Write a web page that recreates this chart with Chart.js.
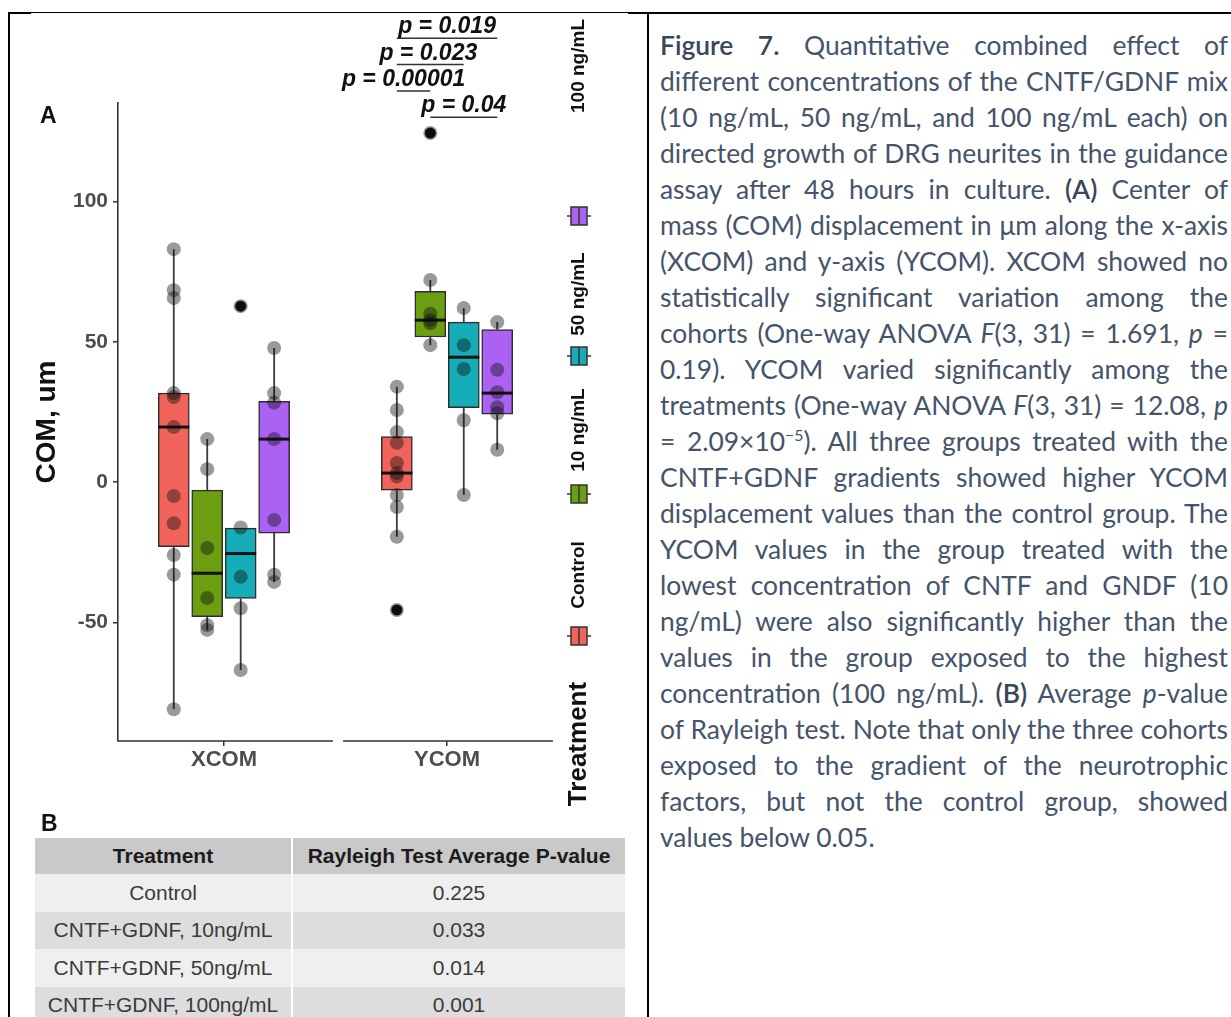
<!DOCTYPE html>
<html>
<head>
<meta charset="utf-8">
<title>Figure 7</title>
<script src="https://cdn.jsdelivr.net/npm/chart.js@4.4.1/dist/chart.umd.min.js"></script>
<style>
  html, body { margin: 0; padding: 0; background: #fff; }
  body { width: 1231px; height: 1017px; position: relative; overflow: hidden;
         font-family: "Liberation Sans", Arial, sans-serif; }
  .rule { position: absolute; background: #000; }
  #chart { position: absolute; left: 0; top: 0; }
  .panel-label { position: absolute; font-weight: bold; font-size: 23px; line-height: 23px; color: #111; }
  #rayleigh { position: absolute; left: 35px; top: 838px; width: 590px; border-collapse: collapse;
              table-layout: fixed; font-size: 21px; color: #3a3a3a; }
  #rayleigh th, #rayleigh td { padding: 0; text-align: center; white-space: nowrap; }
  #rayleigh th { background: #c9c9c9; color: #1c1c1c; font-weight: bold; height: 36px; }
  #rayleigh td { height: 37.5px; }
  #rayleigh th:first-child, #rayleigh td:first-child { border-right: 2px solid #fff; }
  #rayleigh tbody tr:nth-child(odd) td { background: #efefef; }
  #rayleigh tbody tr:nth-child(even) td { background: #dddddd; }
  #caption { position: absolute; left: 660px; top: 27px; width: 568px;
             font-family: Lato, "Open Sans", sans-serif; font-weight: 400; font-size: 27px; color: #44546A; }
  #caption .ln { height: 36px; line-height: 36px; text-align: justify; text-align-last: justify; }
  #caption .ln.last { text-align-last: left; }
  #caption .em { font-weight: 600; color: #3a475a; }
  #caption sup { font-size: 0.6em; line-height: 0; vertical-align: super; }
</style>
</head>
<body>
<div class="rule" style="left:8px; top:12px; width:1223px; height:2px;"></div>
<div class="rule" style="left:8px; top:12px; width:2px; height:1005px;"></div>
<div class="rule" style="left:647px; top:12px; width:2px; height:1005px;"></div>
<div style="position:absolute; left:31px; top:13px; width:597px; height:1px; background:#fff;"></div>

<canvas id="chart" width="640" height="830"></canvas>

<div class="panel-label" style="left:40px; top:104px;">A</div>
<div class="panel-label" style="left:41px; top:812px;">B</div>

<table id="rayleigh">
  <colgroup><col style="width:257px"><col style="width:333px"></colgroup>
  <thead><tr><th>Treatment</th><th>Rayleigh Test Average P-value</th></tr></thead>
  <tbody></tbody>
</table>

<div id="caption">
  <div class="ln"><span class="em">Figure 7.</span> Quantitative combined effect of</div>
  <div class="ln">different concentrations of the CNTF/GDNF mix</div>
  <div class="ln">(10 ng/mL, 50 ng/mL, and 100 ng/mL each) on</div>
  <div class="ln">directed growth of DRG neurites in the guidance</div>
  <div class="ln">assay after 48 hours in culture. <span class="em">(A)</span> Center of</div>
  <div class="ln">mass (COM) displacement in μm along the x-axis</div>
  <div class="ln">(XCOM) and y-axis (YCOM). XCOM showed no</div>
  <div class="ln">statistically significant variation among the</div>
  <div class="ln">cohorts (One-way ANOVA <i>F</i>(3, 31) = 1.691, <i>p</i> =</div>
  <div class="ln">0.19). YCOM varied significantly among the</div>
  <div class="ln">treatments (One-way ANOVA <i>F</i>(3, 31) = 12.08, <i>p</i></div>
  <div class="ln">= 2.09×10<sup>−5</sup>). All three groups treated with the</div>
  <div class="ln">CNTF+GDNF gradients showed higher YCOM</div>
  <div class="ln">displacement values than the control group. The</div>
  <div class="ln">YCOM values in the group treated with the</div>
  <div class="ln">lowest concentration of CNTF and GNDF (10</div>
  <div class="ln">ng/mL) were also significantly higher than the</div>
  <div class="ln">values in the group exposed to the highest</div>
  <div class="ln">concentration (100 ng/mL). <span class="em">(B)</span> Average <i>p</i>-value</div>
  <div class="ln">of Rayleigh test. Note that only the three cohorts</div>
  <div class="ln">exposed to the gradient of the neurotrophic</div>
  <div class="ln">factors, but not the control group, showed</div>
  <div class="ln last">values below 0.05.</div>
</div>

<script>
// ---- data ----
const groups = ['XCOM', 'YCOM'];
const treatments = ['Control', '10 ng/mL', '50 ng/mL', '100 ng/mL'];
const yTicks = [-50, 0, 50, 100];

// box summaries per group (XCOM, YCOM): [lower whisker, Q1, median, Q3, upper whisker]
const controlBox = [[-81, -23, 19.6, 31.7, 83], [-19.5, -2.9, 3.2, 16.2, 34]];
const ng10Box    = [[-52.7, -48, -32.5, -2.9, 15.3], [48.8, 51.7, 57.7, 68, 72]];
const ng50Box    = [[-67, -41.5, -25.5, -16.4, -16.4], [-4.6, 26.5, 44.5, 57, 62]];
const ng100Box   = [[-35.6, -18.2, 15.3, 28.8, 47.8], [11.5, 24.2, 31.7, 54.3, 57]];

// individual explants (XCOM, YCOM)
const controlPoints = [[83, 68.4, 65.6, 31.7, 30.3, 19.6, -5, -14.7, -26, -33, -81],
                       [34, 25.7, 17.8, 14, 6.8, 3.2, 2, -4.6, -8.9, -19.5, -45.6]];
const ng10Points    = [[15.3, 4.6, -23.5, -41.3, -51, -52.7],
                       [124.4, 72, 60, 57.7, 56.6, 48.8]];
const ng50Points    = [[62.7, -16.2, -33.8, -45, -67],
                       [62, 48.8, 40.3, 22, -4.6]];
const ng100Points   = [[47.8, 31.7, 28.3, 15.3, -13.5, -33, -35.6],
                       [57, 40, 32, 26.7, 24.5, 11.5]];

// values beyond 1.5 IQR (XCOM, YCOM)
const controlOutliers = [[], [-45.6]];
const ng10Outliers    = [[], [124.4]];
const ng50Outliers    = [[62.7], []];
const ng100Outliers   = [[], []];

// YCOM pairwise comparisons, lowest bracket first
const pLabels = ['p = 0.04', 'p = 0.00001', 'p = 0.023', 'p = 0.019'];
const pPairs  = [[1, 3], [0, 1], [0, 2], [0, 3]];

// panel B
const rayleighTreatments = ['Control', 'CNTF+GDNF, 10ng/mL', 'CNTF+GDNF, 50ng/mL', 'CNTF+GDNF, 100ng/mL'];
const rayleighPValues = ['0.225', '0.033', '0.014', '0.001'];

// ---- styling / layout ----
const FONT = '"Liberation Sans", Arial, sans-serif';
const fills = ['#F2645B', '#6C9E12', '#16ADB8', '#AB62F3'];
const DODGE = 0.15;                 // spacing between dodged boxes, in group units
const PANEL_GAP = [0.489, 0.534];   // blank strip between the XCOM and YCOM panels
const BRACKET_BASE = 130, BRACKET_STEP = 9.4;
const LABEL_SHIFT = [0, -10, -2, 0]; // horizontal nudges (px) for the bracket labels

const boxSets = [controlBox, ng10Box, ng50Box, ng100Box];
const pointSets = [controlPoints, ng10Points, ng50Points, ng100Points];
const outlierSets = [controlOutliers, ng10Outliers, ng50Outliers, ng100Outliers];
const slot = (gi, ti) => gi + (ti - (treatments.length - 1) / 2) * DODGE;

// table B
const tbody = document.querySelector('#rayleigh tbody');
rayleighTreatments.forEach((t, i) => {
  const tr = document.createElement('tr');
  const a = document.createElement('td'); a.textContent = t;
  const b = document.createElement('td'); b.textContent = rayleighPValues[i];
  tr.appendChild(a); tr.appendChild(b); tbody.appendChild(tr);
});

// ---- datasets ----
const datasets = [];
treatments.forEach((t, ti) => {
  datasets.push({
    type: 'bar', label: t, order: 3, boxStats: boxSets[ti],
    data: groups.map((g, gi) => ({ x: slot(gi, ti), y: [boxSets[ti][gi][1], boxSets[ti][gi][3]] })),
    backgroundColor: fills[ti], borderColor: '#2e2e2e', borderWidth: 1.5,
    borderSkipped: false, barThickness: 31, grouped: false
  });
});
treatments.forEach((t, ti) => {
  datasets.push({
    type: 'scatter', label: t + ' explants', order: 2,
    data: pointSets[ti].flatMap((vals, gi) => vals.map(v => ({ x: slot(gi, ti), y: v }))),
    pointRadius: 7, pointHoverRadius: 7, pointBorderWidth: 0,
    pointBackgroundColor: 'rgba(15,15,15,0.42)'
  });
  datasets.push({
    type: 'scatter', label: t + ' outliers', order: 1,
    data: outlierSets[ti].flatMap((vals, gi) => vals.map(v => ({ x: slot(gi, ti), y: v }))),
    pointRadius: 5.5, pointHoverRadius: 5.5, pointBorderWidth: 0,
    pointBackgroundColor: '#0d0d0d'
  });
});

// whiskers under the boxes, medians on top of them
const boxPlotExtras = {
  id: 'boxPlotExtras',
  beforeDatasetsDraw(chart) {
    const { ctx, scales: { x, y } } = chart;
    ctx.save();
    ctx.strokeStyle = '#3b3b3b';
    ctx.lineWidth = 1.8;
    boxSets.forEach((stats, ti) => stats.forEach((s, gi) => {
      const px = x.getPixelForValue(slot(gi, ti));
      ctx.beginPath();
      ctx.moveTo(px, y.getPixelForValue(s[0])); ctx.lineTo(px, y.getPixelForValue(s[1]));
      ctx.moveTo(px, y.getPixelForValue(s[3])); ctx.lineTo(px, y.getPixelForValue(s[4]));
      ctx.stroke();
    }));
    ctx.restore();
  },
  afterDatasetDraw(chart, args) {
    const ds = chart.data.datasets[args.index];
    if (!ds.boxStats) return;
    const { ctx, scales: { y } } = chart;
    ctx.save();
    ctx.strokeStyle = '#111';
    ctx.lineWidth = 3;
    args.meta.data.forEach((bar, gi) => {
      const { x: bx, width } = bar.getProps(['x', 'width'], true);
      const my = y.getPixelForValue(ds.boxStats[gi][2]);
      ctx.beginPath(); ctx.moveTo(bx - width / 2, my); ctx.lineTo(bx + width / 2, my); ctx.stroke();
    });
    ctx.restore();
  }
};

// separate x-axis lines for the two panels
const panelAxes = {
  id: 'panelAxes',
  afterDraw(chart) {
    const { ctx, chartArea: a, scales: { x } } = chart;
    ctx.save();
    ctx.strokeStyle = '#333';
    ctx.lineWidth = 1.6;
    ctx.beginPath();
    ctx.moveTo(a.left, a.bottom); ctx.lineTo(x.getPixelForValue(PANEL_GAP[0]), a.bottom);
    ctx.moveTo(x.getPixelForValue(PANEL_GAP[1]), a.bottom); ctx.lineTo(a.right, a.bottom);
    ctx.stroke();
    ctx.restore();
  }
};

// significance labels with underline brackets over YCOM
const pValueBrackets = {
  id: 'pValueBrackets',
  afterDraw(chart) {
    const { ctx, scales: { x, y } } = chart;
    ctx.save();
    ctx.fillStyle = '#111';
    ctx.strokeStyle = '#333';
    ctx.lineWidth = 1.6;
    ctx.font = 'italic bold 23px ' + FONT;
    ctx.textAlign = 'center';
    ctx.textBaseline = 'alphabetic';
    pPairs.forEach(([a, b], k) => {
      const x1 = x.getPixelForValue(slot(1, a));
      const x2 = x.getPixelForValue(slot(1, b));
      const ly = y.getPixelForValue(BRACKET_BASE + k * BRACKET_STEP);
      ctx.beginPath(); ctx.moveTo(x1, ly); ctx.lineTo(x2, ly); ctx.stroke();
      ctx.fillText(pLabels[k], (x1 + x2) / 2 + LABEL_SHIFT[k], ly - 5);
    });
    ctx.restore();
  }
};

// vertical legend to the right of the panels
const LEGEND_X = 579;
const LEGEND_TITLE_Y = 744;
const LEGEND_KEY_Y = [636, 494, 356, 216];
const LEGEND_LABEL_Y = [575, 430, 294, 66];
function rotatedText(ctx, text, cx, cy, font) {
  ctx.save();
  ctx.translate(cx, cy);
  ctx.rotate(-Math.PI / 2);
  ctx.font = font;
  ctx.textAlign = 'center';
  ctx.textBaseline = 'middle';
  ctx.fillText(text, 0, 0);
  ctx.restore();
}
const rotatedLegend = {
  id: 'rotatedLegend',
  afterDraw(chart) {
    const { ctx } = chart;
    ctx.save();
    ctx.fillStyle = '#111';
    rotatedText(ctx, 'Treatment', LEGEND_X, LEGEND_TITLE_Y, 'bold 26px ' + FONT);
    treatments.forEach((t, i) => {
      const ky = LEGEND_KEY_Y[i];
      ctx.strokeStyle = '#333';
      ctx.lineWidth = 1.5;
      ctx.beginPath(); ctx.moveTo(LEGEND_X - 12, ky); ctx.lineTo(LEGEND_X + 12, ky); ctx.stroke();
      ctx.fillStyle = fills[i];
      ctx.fillRect(LEGEND_X - 8, ky - 9, 16, 18);
      ctx.strokeRect(LEGEND_X - 8, ky - 9, 16, 18);
      ctx.beginPath(); ctx.moveTo(LEGEND_X, ky - 9); ctx.lineTo(LEGEND_X, ky + 9); ctx.stroke();
      ctx.fillStyle = '#111';
      rotatedText(ctx, t, LEGEND_X, LEGEND_LABEL_Y[i], 'bold 19px ' + FONT);
    });
    ctx.restore();
  }
};

Chart.defaults.font.family = FONT;

new Chart(document.getElementById('chart'), {
  type: 'bar',
  data: { datasets },
  options: {
    responsive: false,
    animation: false,
    devicePixelRatio: 1,
    layout: { padding: { left: 28, right: 87, top: 103, bottom: 55 } },
    plugins: { legend: { display: false }, tooltip: { enabled: false } },
    scales: {
      x: {
        type: 'linear', min: -0.475, max: 1.475, offset: false,
        afterBuildTicks: s => { s.ticks = groups.map((g, i) => ({ value: i })); },
        afterFit: s => { s.height = 34; },
        border: { display: false },
        grid: { display: true, offset: false, drawOnChartArea: false, drawTicks: true, tickLength: 5, color: '#333', lineWidth: 1.5 },
        ticks: {
          callback: v => groups[v] ?? '',
          font: { size: 22, weight: 'bold' }, color: '#4d4d4d',
          padding: 1, maxRotation: 0, autoSkip: false
        }
      },
      y: {
        min: -92.3, max: 135.1,
        afterBuildTicks: s => { s.ticks = yTicks.map(v => ({ value: v })); },
        afterFit: s => { s.width = 90; },
        border: { display: true, color: '#333', width: 1.6 },
        grid: { display: true, drawOnChartArea: false, drawTicks: true, tickLength: 5, color: '#333', lineWidth: 1.5 },
        ticks: { font: { size: 21, weight: 'bold' }, color: '#4d4d4d', padding: 5 },
        title: {
          display: true, text: 'COM, um', color: '#111',
          font: { size: 28, weight: 'bold' }, padding: { top: 2, bottom: 0 }
        }
      }
    }
  },
  plugins: [boxPlotExtras, panelAxes, pValueBrackets, rotatedLegend]
});

// keep every caption line on one row: shrink the type only if a line would wrap
document.fonts.ready.then(() => {
  const cap = document.getElementById('caption');
  const lines = Array.from(cap.querySelectorAll('.ln'));
  let widest = 0;
  lines.forEach(l => {
    const probe = document.createElement('span');
    probe.style.whiteSpace = 'nowrap';
    while (l.firstChild) probe.appendChild(l.firstChild);
    l.appendChild(probe);
    widest = Math.max(widest, probe.getBoundingClientRect().width);
  });
  const avail = cap.clientWidth - 2;
  if (widest > avail) {
    const size = parseFloat(getComputedStyle(cap).fontSize);
    cap.style.fontSize = (size * avail / widest).toFixed(2) + 'px';
  }
  lines.forEach(l => { l.firstChild.style.whiteSpace = ''; });
});
</script>
</body>
</html>
